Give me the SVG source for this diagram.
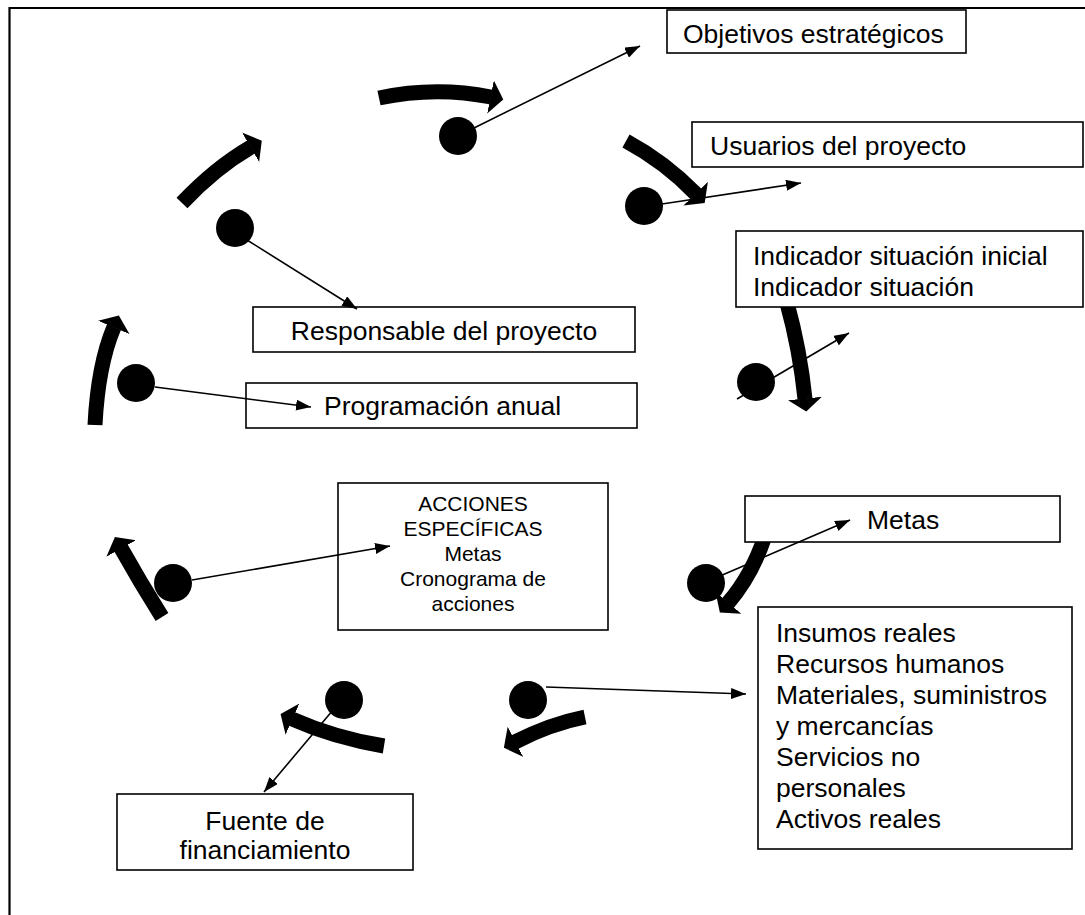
<svg xmlns="http://www.w3.org/2000/svg" width="1085" height="915" viewBox="0 0 1085 915">
<style>
.box{fill:#fff;stroke:#000;stroke-width:1.6}
.t{font-family:"Liberation Sans",Arial,sans-serif;font-size:26.5px;fill:#000}
.ts{font-family:"Liberation Sans",Arial,sans-serif;font-size:21px;fill:#000}
.c{fill:none;stroke:#000;stroke-width:1.6}
.big{fill:none;stroke:#000;stroke-width:15}
.dot{fill:#000}
</style>
<defs>
<marker id="ah" markerUnits="userSpaceOnUse" markerWidth="15" markerHeight="11" refX="15" refY="5.5" orient="auto">
<path d="M0,0 L15,5.5 L0,11 z" fill="#000"/>
</marker>
<marker id="bh" markerUnits="userSpaceOnUse" markerWidth="14" markerHeight="34" refX="0.5" refY="17" orient="auto">
<path d="M0,0 L13,17 L0,34 z" fill="#000"/>
</marker>
</defs>
<rect width="1085" height="915" fill="#fff"/>
<path d="M9.5,915 V8 H1085" fill="none" stroke="#000" stroke-width="2.2"/>

<g id="cycle">
<path class="big" marker-end="url(#bh)" d="M379,98 Q435,86 491,97"/>
<path class="big" marker-end="url(#bh)" d="M626,141 Q665,162 696,194"/>
<path class="big" marker-end="url(#bh)" d="M787,303 Q800,350 805,399"/>
<path class="big" marker-end="url(#bh)" d="M765,536 Q752,575 728,603"/>
<path class="big" marker-end="url(#bh)" d="M585,717 Q550,724 515,742"/>
<path class="big" marker-end="url(#bh)" d="M384,746 Q335,738 292,719"/>
<path class="big" marker-end="url(#bh)" d="M162,617 Q140,582 121,548"/>
<path class="big" marker-end="url(#bh)" d="M95,425 Q98,365 114,327"/>
<path class="big" marker-end="url(#bh)" d="M182,203 Q215,168 251,147"/>
</g>

<g id="dots">
<circle class="dot" cx="458" cy="136" r="19"/>
<circle class="dot" cx="644" cy="206" r="19"/>
<circle class="dot" cx="756" cy="382" r="19"/>
<circle class="dot" cx="706" cy="583" r="19"/>
<circle class="dot" cx="528" cy="700" r="19"/>
<circle class="dot" cx="344" cy="700" r="19"/>
<circle class="dot" cx="173" cy="583" r="19"/>
<circle class="dot" cx="136" cy="383" r="19"/>
<circle class="dot" cx="235" cy="228" r="19"/>
</g>

<g id="n-objetivos">
<rect class="box" x="667" y="10" width="299" height="43"/>
<text class="t" x="683" y="43">Objetivos estratégicos</text>
</g>
<g id="n-usuarios">
<rect class="box" x="692" y="122" width="391" height="45"/>
<text class="t" x="710" y="155">Usuarios del proyecto</text>
</g>
<g id="n-indicador">
<rect class="box" x="736" y="231" width="347" height="76"/>
<text class="t" x="753" y="265">Indicador situación inicial</text>
<text class="t" x="753" y="296">Indicador situación</text>
</g>
<g id="n-responsable">
<rect class="box" x="253" y="307" width="382" height="45"/>
<text class="t" x="444" y="340" text-anchor="middle">Responsable del proyecto</text>
</g>
<g id="n-programacion">
<rect class="box" x="246" y="383" width="391" height="45"/>
<text class="t" x="324" y="415">Programación anual</text>
</g>
<g id="n-acciones">
<rect class="box" x="338" y="483" width="270" height="147"/>
<text class="ts" x="473" y="511" text-anchor="middle">ACCIONES</text>
<text class="ts" x="473" y="536" text-anchor="middle">ESPECÍFICAS</text>
<text class="ts" x="473" y="561" text-anchor="middle">Metas</text>
<text class="ts" x="473" y="586" text-anchor="middle">Cronograma de</text>
<text class="ts" x="473" y="611" text-anchor="middle">acciones</text>
</g>
<g id="n-metas">
<rect class="box" x="745" y="496" width="315" height="46"/>
<text class="t" x="867" y="529">Metas</text>
</g>
<g id="n-insumos">
<rect class="box" x="758" y="607" width="314" height="242"/>
<text class="t" x="776" y="642">Insumos reales</text>
<text class="t" x="776" y="673">Recursos humanos</text>
<text class="t" x="776" y="704">Materiales, suministros</text>
<text class="t" x="776" y="735">y mercancías</text>
<text class="t" x="776" y="766">Servicios no</text>
<text class="t" x="776" y="797">personales</text>
<text class="t" x="776" y="828">Activos reales</text>
</g>
<g id="n-fuente">
<rect class="box" x="117" y="794" width="296" height="76"/>
<text class="t" x="265" y="830" text-anchor="middle">Fuente de</text>
<text class="t" x="265" y="859" text-anchor="middle">financiamiento</text>
</g>

<g id="connectors">
<line class="c" marker-end="url(#ah)" x1="472" y1="129" x2="640" y2="46"/>
<line class="c" marker-end="url(#ah)" x1="662" y1="204" x2="801" y2="183"/>
<line class="c" marker-end="url(#ah)" x1="737" y1="399" x2="849" y2="333"/>
<line class="c" marker-end="url(#ah)" x1="247" y1="240" x2="357" y2="309"/>
<line class="c" marker-end="url(#ah)" x1="155" y1="387" x2="311" y2="407"/>
<line class="c" marker-end="url(#ah)" x1="192" y1="580" x2="390" y2="546"/>
<line class="c" marker-end="url(#ah)" x1="720" y1="576" x2="850" y2="520"/>
<line class="c" marker-end="url(#ah)" x1="333" y1="710" x2="264" y2="792"/>
<line class="c" marker-end="url(#ah)" x1="546" y1="687" x2="746" y2="694"/>
</g>
</svg>
